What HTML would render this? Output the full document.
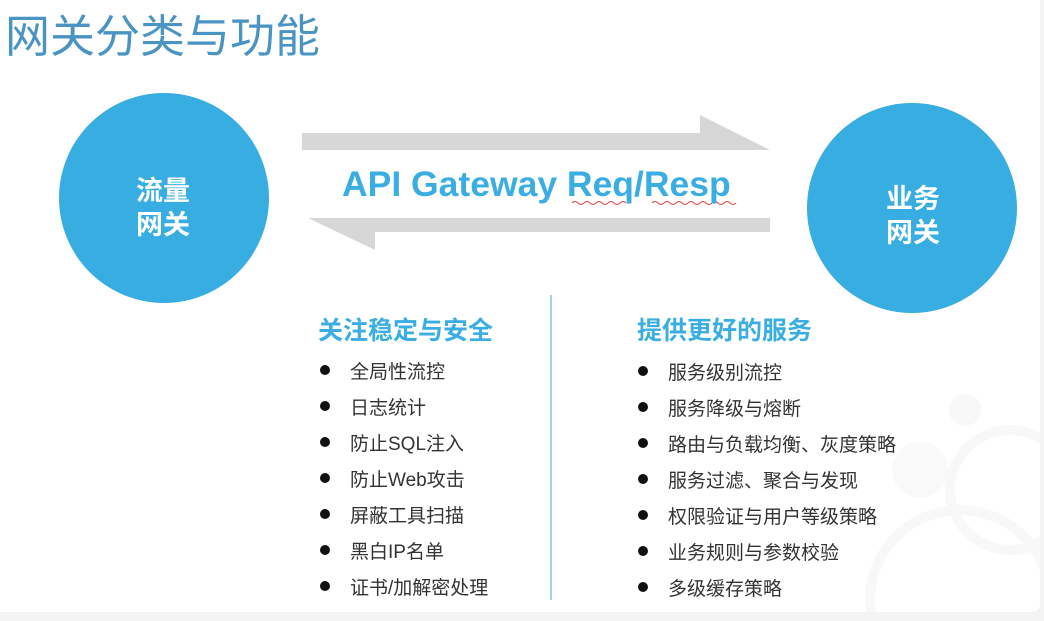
<!DOCTYPE html>
<html><head><meta charset="utf-8"><style>
html,body{margin:0;width:1044px;height:621px;overflow:hidden;background:#f4f4f4;font-family:"Liberation Sans","Noto Sans CJK SC",sans-serif;}
.slide{position:absolute;left:0;top:0;width:1040px;height:612px;background:#fff;border-radius:0 0 8px 0;overflow:hidden}
.t{position:absolute;white-space:nowrap;line-height:1.2}
.h{color:#3aaee2;font-weight:bold;font-size:25px}
.it{color:#333;font-size:19px}
.dot{position:absolute;width:10px;height:10px;border-radius:50%;background:#111}
</style></head><body>
<div class="slide">
<svg width="1040" height="612" style="position:absolute;left:0;top:0">
<g fill="none" stroke="#f8f8f8" stroke-width="10">
<circle cx="1010" cy="490" r="60"/><circle cx="960" cy="600" r="90"/>
</g>
<circle cx="965" cy="410" r="16" fill="#f8f8f8"/>
<circle cx="920" cy="470" r="28" fill="#f9f9f9"/>
<circle cx="164" cy="198" r="105" fill="#38ade2"/>
<circle cx="912" cy="208" r="105" fill="#38ade2"/>
<polygon points="302,133 700,133 700,115 770,150 302,150" fill="#d7d7d7"/>
<polygon points="770,218 375,218 308,218 375,250 375,232 770,232" fill="#d7d7d7"/>
<line x1="551" y1="295" x2="551" y2="600" stroke="#9fd3ec" stroke-width="2"/>
<path d="M572 203 q3 -3 6 0 t6 0 t6 0 t6 0 t6 0 t6 0 t6 0 t6 0 t6 0 M652 203 q3 -3 6 0 t6 0 t6 0 t6 0 t6 0 t6 0 t6 0 t6 0 t6 0 t6 0 t6 0 t6 0 t6 0 t6 0" stroke="#e04040" stroke-width="1" fill="none"/>
</svg>
<div class="t" style="left:5px;top:10px;font-size:45px;color:#4a94c4">网关分类与功能</div>
<div class="t" style="left:136px;top:174px;font-size:27px;color:#fff;font-weight:bold;line-height:34px">流量<br>网关</div>
<div class="t" style="left:886px;top:182px;font-size:27px;color:#fff;font-weight:bold;line-height:34px">业务<br>网关</div>
<div class="t" style="left:342px;top:163px;font-size:35.5px;color:#3aaee2;font-weight:bold">API Gateway Req/Resp</div>
<div class="t h" style="left:318px;top:316px">关注稳定与安全</div>
<div class="t h" style="left:637px;top:316px">提供更好的服务</div>
<div class="dot" style="left:320px;top:365px"></div><div class="t it" style="left:350px;top:362px">全局性流控</div>
<div class="dot" style="left:320px;top:401px"></div><div class="t it" style="left:350px;top:398px">日志统计</div>
<div class="dot" style="left:320px;top:437px"></div><div class="t it" style="left:350px;top:434px">防止SQL注入</div>
<div class="dot" style="left:320px;top:473px"></div><div class="t it" style="left:350px;top:470px">防止Web攻击</div>
<div class="dot" style="left:320px;top:509px"></div><div class="t it" style="left:350px;top:506px">屏蔽工具扫描</div>
<div class="dot" style="left:320px;top:545px"></div><div class="t it" style="left:350px;top:542px">黑白IP名单</div>
<div class="dot" style="left:320px;top:581px"></div><div class="t it" style="left:350px;top:578px">证书/加解密处理</div>
<div class="dot" style="left:638px;top:366px"></div><div class="t it" style="left:668px;top:363px">服务级别流控</div>
<div class="dot" style="left:638px;top:402px"></div><div class="t it" style="left:668px;top:399px">服务降级与熔断</div>
<div class="dot" style="left:638px;top:438px"></div><div class="t it" style="left:668px;top:435px">路由与负载均衡、灰度策略</div>
<div class="dot" style="left:638px;top:474px"></div><div class="t it" style="left:668px;top:471px">服务过滤、聚合与发现</div>
<div class="dot" style="left:638px;top:510px"></div><div class="t it" style="left:668px;top:507px">权限验证与用户等级策略</div>
<div class="dot" style="left:638px;top:546px"></div><div class="t it" style="left:668px;top:543px">业务规则与参数校验</div>
<div class="dot" style="left:638px;top:582px"></div><div class="t it" style="left:668px;top:579px">多级缓存策略</div>
</div>
</body></html>
